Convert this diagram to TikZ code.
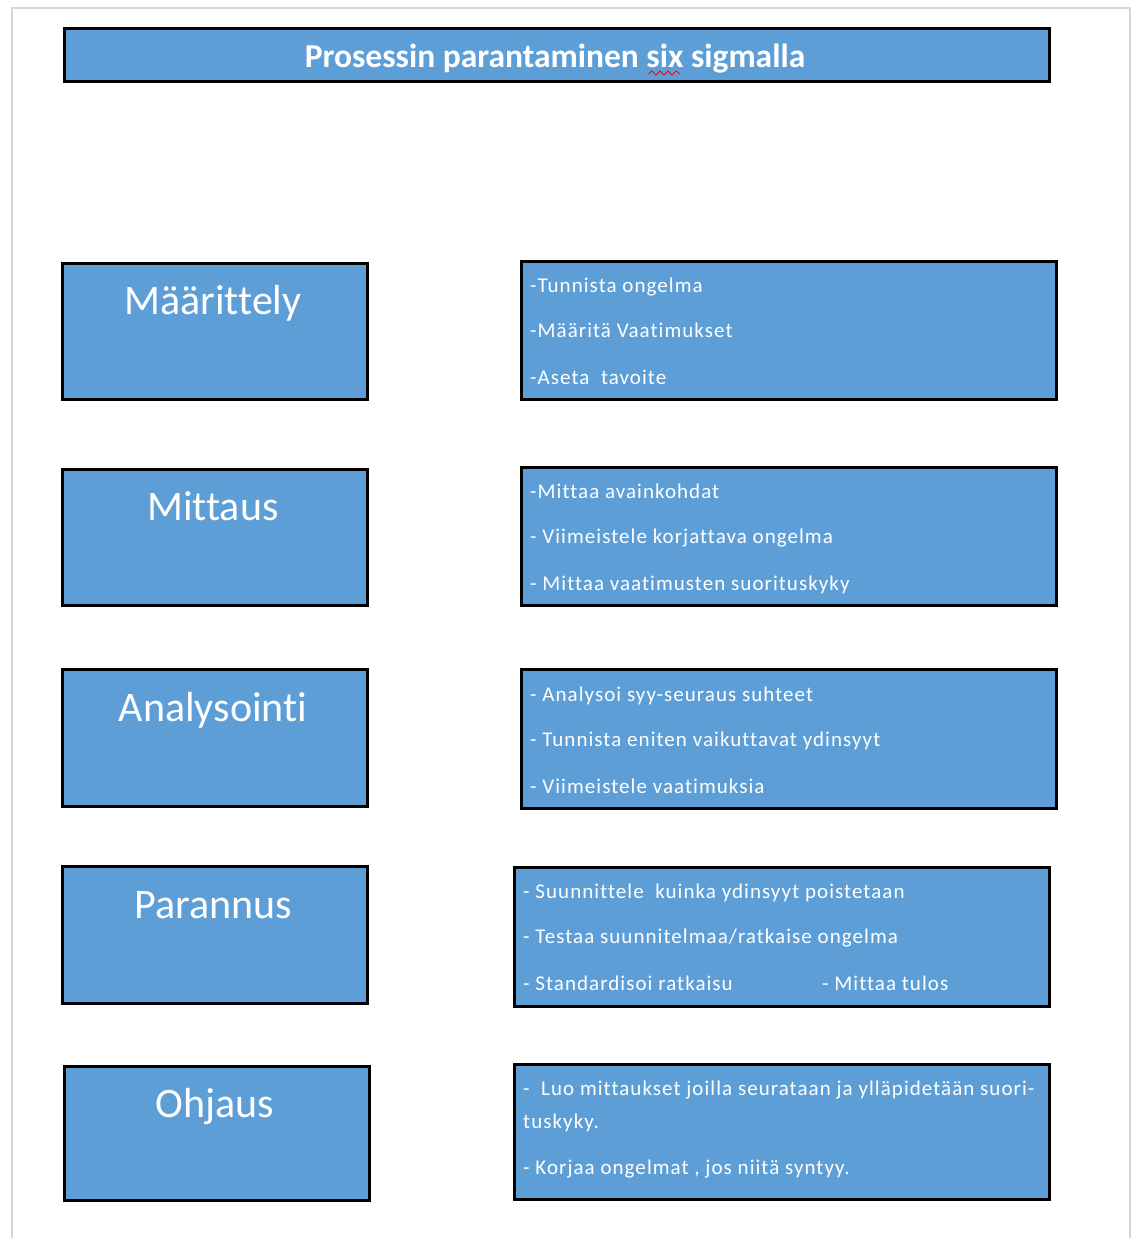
\documentclass[tikz,border=0pt]{standalone}
\usepackage{fontspec}
\setmainfont[Ligatures=NoCommon]{Carlito}
\newfontfamily\itemfont[LetterSpace=5,Ligatures=NoCommon]{Carlito}
\definecolor{boxblue}{RGB}{93,158,215}
\definecolor{pageedge}{RGB}{215,215,215}
\tikzset{
  box/.style={draw=black, line width=3pt, fill=boxblue, anchor=north west, inner sep=0pt},
  phase/.style={text=white, font=\fontsize{42}{46}\selectfont, anchor=base},
  item/.style={text=white, font=\itemfont\fontsize{21}{24}\selectfont, anchor=base west, inner sep=0pt},
  titletext/.style={text=white, font=\bfseries\fontsize{33.5}{36}\selectfont, anchor=base, inner sep=0pt}
}
\begin{document}
\begin{tikzpicture}[x=1pt,y=-1pt]
\useasboundingbox (0,0) rectangle (1133,1238);
\draw[pageedge, line width=1.5pt] (12,1238) -- (12,8) -- (1130,8) -- (1130,1238);
% title
\node[box, minimum width=985pt, minimum height=53pt] (title) at (63,27) {};
\node[titletext] (titlet) at (555,68) {Prosessin parantaminen six sigmalla};
\draw[red, line width=0.8pt] (648,74) -- (652,71) -- (656,75) -- (660,71) -- (664,75) -- (668,71) -- (672,75) -- (676,71) -- (680,74);
% left phase boxes
\node[box, minimum width=305pt, minimum height=136pt] (b1) at (61,262) {};
\node[box, minimum width=305pt, minimum height=136pt] (b2) at (61,468) {};
\node[box, minimum width=305pt, minimum height=137pt] (b3) at (61,668) {};
\node[box, minimum width=305pt, minimum height=137pt] (b4) at (61,865) {};
\node[box, minimum width=305pt, minimum height=134pt] (b5) at (63,1065) {};
\node[phase] (l1) at (213,314) {Määrittely};
\node[phase] (l2) at (213,520) {Mittaus};
\node[phase] (l3) at (213,721) {Analysointi};
\node[phase] (l4) at (213,918) {Parannus};
\node[phase] (l5) at (215,1117) {Ohjaus};
% right detail boxes
\node[box, minimum width=535pt, minimum height=138pt] (d1) at (520,260) {};
\node[box, minimum width=535pt, minimum height=138pt] (d2) at (520,466) {};
\node[box, minimum width=535pt, minimum height=139pt] (d3) at (520,668) {};
\node[box, minimum width=535pt, minimum height=139pt] (d4) at (513,866) {};
\node[box, minimum width=535pt, minimum height=135pt] (d5) at (513,1063) {};
\node[item] (t11) at (530,293) {-Tunnista ongelma};
\node[item] (t12) at (530,337) {-Määritä Vaatimukset};
\node[item] (t13) at (530,384) {-Aseta\ \ tavoite};
\node[item] (t21) at (530,498) {-Mittaa avainkohdat};
\node[item] (t22) at (530,543) {- Viimeistele korjattava ongelma};
\node[item] (t23) at (530,590) {- Mittaa vaatimusten suorituskyky};
\node[item] (t31) at (530,701) {- Analysoi syy-seuraus suhteet};
\node[item] (t32) at (530,746) {- Tunnista eniten vaikuttavat ydinsyyt};
\node[item] (t33) at (530,793) {- Viimeistele vaatimuksia};
\node[item] (t41) at (523,898) {- Suunnittele\ \ kuinka ydinsyyt poistetaan};
\node[item] (t42) at (523,943) {- Testaa suunnitelmaa/ratkaise ongelma};
\node[item] (t43) at (523,990) {- Standardisoi ratkaisu};
\node[item] (t44) at (822,990) {- Mittaa tulos};
\node[item] (t51) at (523,1095) {-\ \ Luo mittaukset joilla seurataan ja ylläpidetään suori-};
\node[item] (t52) at (523,1128) {tuskyky.};
\node[item] (t53) at (523,1174) {- Korjaa ongelmat , jos niitä syntyy.};
\end{tikzpicture}
\end{document}
